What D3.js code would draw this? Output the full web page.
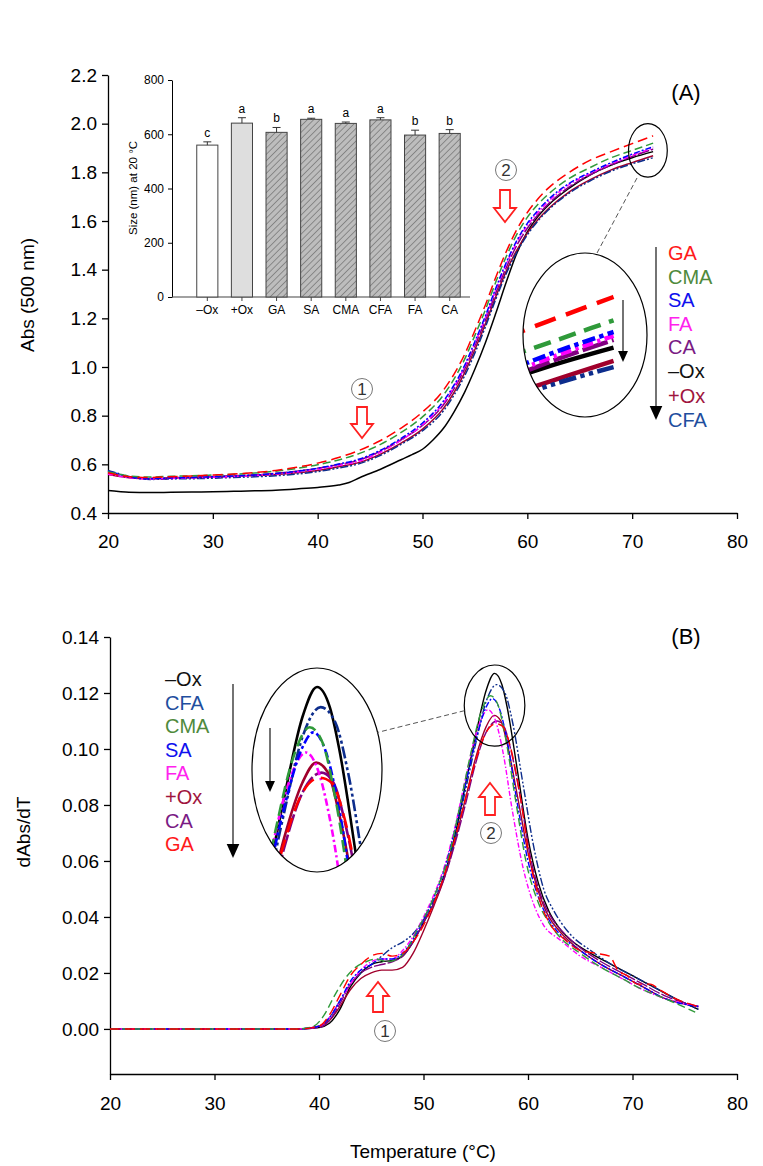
<!DOCTYPE html>
<html>
<head>
<meta charset="utf-8">
<script src="https://cdn.jsdelivr.net/npm/d3@7/dist/d3.min.js"></script>
<style>
  body { margin: 0; background: #fff; }
  svg text { font-family: "Liberation Sans", Arial, sans-serif; }
</style>
</head>
<body>
<svg id="fig" width="763" height="1166"></svg>
<script>
// ---------- tick values ----------
const tempTicks = [20, 30, 40, 50, 60, 70, 80];
const absTicks = [0.4, 0.6, 0.8, 1.0, 1.2, 1.4, 1.6, 1.8, 2.0, 2.2];
const derivTicks = [0, 0.02, 0.04, 0.06, 0.08, 0.10, 0.12, 0.14];
const sizeTicks = [0, 200, 400, 600, 800];

// ---------- inset: particle size at 20 °C ----------
const sizeCategories = ["–Ox", "+Ox", "GA", "SA", "CMA", "CFA", "FA", "CA"];
const sizeValues = [560, 641, 607, 655, 640, 653, 597, 603];
const sizeErrors = [12, 20, 18, 4, 5, 8, 18, 14];
const sizeLetters = ["c", "a", "b", "a", "a", "a", "b", "b"];

// ---------- (A) absorbance at 500 nm vs temperature ----------
const absGA = [[20,0.565],[21,0.556],[22,0.549],[24,0.546],[26,0.549],[28,0.552],[30,0.556],[32,0.560],[34,0.566],[36,0.575],[38,0.588],[40,0.605],[42,0.628],[44,0.658],[46,0.698],[48,0.750],[50,0.815],[52,0.905],[53,0.970],[54,1.050],[55,1.150],[56,1.255],[57,1.370],[58,1.475],[59,1.565],[60,1.635],[61,1.690],[62,1.735],[64,1.800],[66,1.850],[68,1.885],[70,1.918],[72,1.950]];
const absCMA = [[20,0.570],[21,0.560],[22,0.552],[24,0.548],[26,0.551],[28,0.553],[30,0.556],[32,0.559],[34,0.564],[36,0.572],[38,0.583],[40,0.598],[42,0.618],[44,0.645],[46,0.682],[48,0.732],[50,0.795],[52,0.885],[53,0.950],[54,1.030],[55,1.130],[56,1.235],[57,1.350],[58,1.455],[59,1.545],[60,1.615],[61,1.668],[62,1.710],[64,1.775],[66,1.820],[68,1.860],[70,1.890],[72,1.920]];
const absSA = [[20,0.572],[21,0.560],[22,0.548],[24,0.541],[26,0.544],[28,0.546],[30,0.549],[32,0.552],[34,0.556],[36,0.562],[38,0.571],[40,0.584],[42,0.601],[44,0.622],[46,0.658],[48,0.708],[50,0.770],[52,0.860],[53,0.925],[54,1.005],[55,1.105],[56,1.210],[57,1.325],[58,1.430],[59,1.520],[60,1.590],[61,1.643],[62,1.688],[64,1.755],[66,1.800],[68,1.840],[70,1.875],[72,1.905]];
const absFA = [[20,0.560],[21,0.552],[22,0.545],[24,0.540],[26,0.542],[28,0.544],[30,0.547],[32,0.550],[34,0.554],[36,0.560],[38,0.568],[40,0.580],[42,0.595],[44,0.614],[46,0.650],[48,0.700],[50,0.762],[52,0.852],[53,0.918],[54,0.998],[55,1.098],[56,1.203],[57,1.318],[58,1.423],[59,1.512],[60,1.582],[61,1.635],[62,1.680],[64,1.750],[66,1.795],[68,1.835],[70,1.870],[72,1.900]];
const absCA = [[20,0.566],[21,0.556],[22,0.547],[24,0.543],[26,0.545],[28,0.547],[30,0.550],[32,0.553],[34,0.557],[36,0.563],[38,0.572],[40,0.584],[42,0.599],[44,0.618],[46,0.654],[48,0.702],[50,0.760],[52,0.845],[53,0.910],[54,0.990],[55,1.088],[56,1.192],[57,1.305],[58,1.410],[59,1.500],[60,1.570],[61,1.625],[62,1.670],[64,1.740],[66,1.790],[68,1.830],[70,1.865],[72,1.895]];
const absMinusOx = [[20,0.492],[21,0.488],[22,0.485],[24,0.484],[26,0.485],[28,0.486],[30,0.487],[32,0.489],[34,0.491],[36,0.494],[38,0.499],[40,0.505],[42,0.515],[43,0.525],[44,0.545],[46,0.580],[48,0.620],[49,0.640],[50,0.662],[51,0.700],[52,0.748],[53,0.815],[54,0.895],[55,0.992],[56,1.100],[57,1.222],[58,1.350],[59,1.468],[60,1.555],[61,1.618],[62,1.665],[64,1.735],[66,1.790],[68,1.830],[70,1.860],[72,1.885]];
const absPlusOx = [[20,0.558],[21,0.551],[22,0.545],[24,0.541],[26,0.543],[28,0.545],[30,0.548],[32,0.551],[34,0.554],[36,0.558],[38,0.565],[40,0.575],[42,0.590],[44,0.608],[46,0.642],[48,0.688],[50,0.745],[52,0.830],[53,0.895],[54,0.975],[55,1.072],[56,1.177],[57,1.290],[58,1.395],[59,1.480],[60,1.550],[61,1.605],[62,1.650],[64,1.720],[66,1.770],[68,1.810],[70,1.840],[72,1.868]];
const absCFA = [[20,0.575],[21,0.562],[22,0.550],[24,0.538],[26,0.540],[28,0.541],[30,0.543],[32,0.546],[34,0.549],[36,0.553],[38,0.560],[40,0.570],[42,0.585],[44,0.603],[46,0.637],[48,0.683],[50,0.738],[52,0.820],[53,0.884],[54,0.962],[55,1.058],[56,1.165],[57,1.280],[58,1.385],[59,1.472],[60,1.543],[61,1.600],[62,1.645],[64,1.715],[66,1.765],[68,1.805],[70,1.835],[72,1.860]];

// ---------- (B) first derivative dAbs/dT ----------
const dMinusOx = [[20,0],[30,0],[38,0],[40,0.0005],[41,0.002],[42,0.007],[43,0.015],[44,0.020],[45,0.023],[46,0.024],[47,0.0245],[48,0.026],[49,0.031],[50,0.038],[51,0.045],[52,0.055],[53,0.069],[54,0.087],[55,0.105],[56,0.121],[56.8,0.127],[57.5,0.123],[58,0.115],[59,0.092],[60,0.068],[61,0.052],[62,0.042],[63,0.036],[64,0.032],[66,0.027],[68,0.023],[70,0.019],[72,0.015],[74,0.011],[76.3,0.007]];
const dCFA = [[20,0],[30,0],[38,0],[40,0.001],[41,0.004],[42,0.010],[43,0.016],[44,0.020],[45,0.023],[46,0.026],[47,0.029],[48,0.031],[49,0.034],[50,0.039],[51,0.046],[52,0.055],[53,0.068],[54,0.085],[55,0.102],[56,0.117],[57,0.123],[57.8,0.120],[58.5,0.110],[59.5,0.088],[60.5,0.066],[61.5,0.050],[62.5,0.042],[64,0.034],[66,0.028],[68,0.023],[70,0.019],[72,0.015],[74,0.011],[76.3,0.007]];
const dCMA = [[20,0],[30,0],[38,0],[39.5,0.001],[40.5,0.005],[41.5,0.012],[42.5,0.018],[43.5,0.022],[44.5,0.024],[45.5,0.025],[46.5,0.024],[47.5,0.025],[48.5,0.029],[49.5,0.036],[50.5,0.043],[51.5,0.052],[52.5,0.063],[53.5,0.080],[54.5,0.098],[55.5,0.113],[56.4,0.119],[57.1,0.116],[57.8,0.105],[58.8,0.082],[59.8,0.060],[61,0.045],[62,0.038],[63,0.033],[65,0.027],[67,0.022],[69,0.018],[71,0.014],[73,0.011],[76,0.006]];
const dSA = [[20,0],[30,0],[38,0],[40,0.001],[41,0.004],[42,0.010],[43,0.017],[44,0.021],[45,0.023],[46,0.025],[47,0.025],[48,0.027],[49,0.032],[50,0.039],[51,0.047],[52,0.057],[53,0.071],[54,0.087],[55,0.103],[56,0.115],[56.6,0.118],[57.3,0.114],[58,0.103],[59,0.080],[60,0.060],[61,0.047],[62,0.039],[63,0.034],[65,0.028],[67,0.023],[69,0.019],[71,0.015],[73,0.011],[76.3,0.008]];
const dFA = [[20,0],[30,0],[38,0],[40,0.001],[41,0.004],[42,0.010],[43,0.016],[44,0.021],[45,0.024],[46,0.025],[47,0.025],[48,0.028],[49,0.033],[50,0.040],[51,0.048],[52,0.058],[53,0.072],[54,0.089],[55,0.105],[56.2,0.114],[56.9,0.110],[57.6,0.099],[58.5,0.078],[59.5,0.058],[60.5,0.045],[61.5,0.037],[63,0.032],[65,0.026],[67,0.022],[69,0.018],[71,0.014],[73,0.011],[76.3,0.008]];
const dPlusOx = [[20,0],[30,0],[38,0],[40,0.001],[41,0.003],[42,0.008],[43,0.014],[44,0.018],[45,0.020],[46,0.021],[47,0.021],[48,0.022],[49,0.027],[50,0.035],[51,0.044],[52,0.054],[53,0.067],[54,0.082],[55,0.097],[56,0.108],[56.75,0.112],[57.4,0.110],[58,0.102],[59,0.083],[60,0.063],[61,0.049],[62,0.040],[63,0.035],[65,0.028],[67,0.023],[69,0.019],[71,0.015],[73,0.011],[76.3,0.008]];
const dCA = [[20,0],[30,0],[38,0],[40,0.0005],[41,0.003],[42,0.009],[43,0.016],[44,0.020],[45,0.022],[46,0.023],[47,0.024],[48,0.026],[49,0.031],[50,0.038],[51,0.045],[52,0.054],[53,0.066],[54,0.080],[55,0.095],[56,0.106],[57.05,0.110],[57.7,0.108],[58.4,0.099],[59.3,0.082],[60.2,0.062],[61.2,0.048],[62.2,0.040],[63.5,0.034],[65,0.029],[67,0.024],[69,0.020],[71,0.016],[73,0.012],[76.3,0.008]];
const dGA = [[20,0],[30,0],[38,0],[40,0.001],[41,0.005],[42,0.012],[43,0.019],[44,0.023],[45,0.026],[46,0.027],[47,0.026],[48,0.027],[49,0.031],[50,0.037],[51,0.045],[52,0.055],[53,0.068],[54,0.082],[55,0.096],[56,0.106],[56.95,0.109],[57.6,0.108],[58.3,0.101],[59.3,0.082],[60.2,0.060],[61.2,0.045],[62.2,0.037],[63.5,0.032],[65,0.028],[66.5,0.027],[67.8,0.026],[68.6,0.021],[69.5,0.019],[70.5,0.016],[71.7,0.016],[72.6,0.014],[74,0.011],[76.3,0.008]];

// ---------- series styling ----------
const seriesStyle = {
  "GA":  { color: "#ff0000", label: "#ff1a1a", dash: "10,5" },
  "CMA": { color: "#2f9a3a", label: "#4f8a3c", dash: "8,4" },
  "SA":  { color: "#0000ff", label: "#1010ee", dash: "6,2,2,2" },
  "FA":  { color: "#ff00ff", label: "#ff22ee", dash: "5,2,1.5,2" },
  "CA":  { color: "#800080", label: "#7a1a84", dash: "12,2" },
  "–Ox": { color: "#000000", label: "#111111", dash: null },
  "+Ox": { color: "#a0002c", label: "#a0153e", dash: null },
  "CFA": { color: "#0d2d8c", label: "#1f4e9e", dash: "8,2,2,2,2,2" }
};
const absSeries = { "GA": absGA, "CMA": absCMA, "SA": absSA, "FA": absFA, "CA": absCA, "–Ox": absMinusOx, "+Ox": absPlusOx, "CFA": absCFA };
const derivSeries = { "GA": dGA, "CMA": dCMA, "SA": dSA, "FA": dFA, "CA": dCA, "–Ox": dMinusOx, "+Ox": dPlusOx, "CFA": dCFA };
const drawOrder = ["–Ox", "+Ox", "CFA", "CA", "FA", "SA", "CMA", "GA"];
const legendOrderA = ["GA", "CMA", "SA", "FA", "CA", "–Ox", "+Ox", "CFA"];
const legendOrderB = ["–Ox", "CFA", "CMA", "SA", "FA", "+Ox", "CA", "GA"];

const svg = d3.select("#fig");
svg.append("rect").attr("width", 763).attr("height", 1166).attr("fill", "#fff");
const defs = svg.append("defs");

// hatch for the treated samples in the inset
const hatch = defs.append("pattern").attr("id", "hatch")
  .attr("patternUnits", "userSpaceOnUse").attr("width", 4.5).attr("height", 4.5)
  .attr("patternTransform", "rotate(45)");
hatch.append("rect").attr("width", 4.5).attr("height", 4.5).attr("fill", "#bdbdbd");
hatch.append("line").attr("x1", 0).attr("y1", 0).attr("x2", 0).attr("y2", 4.5)
  .attr("stroke", "#555").attr("stroke-width", 1);

function styleAxis(g, size) {
  g.selectAll("text").attr("font-size", size).attr("fill", "#000")
    .attr("font-family", "'Liberation Sans', Arial, sans-serif");
  g.selectAll("path,line").attr("stroke", "#000").attr("stroke-width", 1.3);
}

function drawSeries(g, data, x, y, key, dashScale, strokeW) {
  const st = seriesStyle[key];
  const line = d3.line().x(d => x(d[0])).y(d => y(d[1])).curve(d3.curveMonotoneX);
  const p = g.append("path").datum(data).attr("d", line)
    .attr("fill", "none").attr("stroke", st.color).attr("stroke-width", strokeW)
    .attr("stroke-linejoin", "round");
  if (st.dash) p.attr("stroke-dasharray", st.dash.split(",").map(v => +v * dashScale).join(","));
}

function blockArrow(g, cx, yFrom, yTo) {
  // hollow red arrow pointing from yFrom toward yTo
  const dir = yTo > yFrom ? 1 : -1;
  const sw = 5, hw = 11, hl = 14 * dir;
  const pts = [[cx - sw, yFrom], [cx + sw, yFrom], [cx + sw, yTo - hl], [cx + hw, yTo - hl],
               [cx, yTo], [cx - hw, yTo - hl], [cx - sw, yTo - hl]];
  g.append("polygon").attr("points", pts.map(p => p.join(",")).join(" "))
    .attr("fill", "#fff").attr("stroke", "#ff2020").attr("stroke-width", 1.8);
}

function circledNumber(g, cx, cy, n) {
  g.append("circle").attr("cx", cx).attr("cy", cy).attr("r", 10.5)
    .attr("fill", "#fff").attr("stroke", "#777").attr("stroke-width", 1);
  g.append("text").attr("x", cx).attr("y", cy + 6).attr("text-anchor", "middle")
    .attr("font-size", 17).attr("fill", "#333").text(n);
}

function legendArrow(g, x, y0, y1, head) {
  g.append("line").attr("x1", x).attr("x2", x).attr("y1", y0).attr("y2", y1 - head)
    .attr("stroke", "#000").attr("stroke-width", 1.1);
  g.append("polygon").attr("points", `${x - head * 0.45},${y1 - head} ${x + head * 0.45},${y1 - head} ${x},${y1}`)
    .attr("fill", "#000");
}

// ================= Panel A =================
const xA = d3.scaleLinear().domain([20, 80]).range([108, 737]);
const yA = d3.scaleLinear().domain([0.4, 2.2]).range([513, 75]);
const gA = svg.append("g");

gA.append("g").attr("transform", "translate(0,513)")
  .call(d3.axisBottom(xA).tickValues(tempTicks).tickSize(6).tickSizeOuter(0).tickPadding(16).tickFormat(d3.format("d")))
  .call(g => styleAxis(g, 19));
gA.append("g").attr("transform", "translate(108,0)")
  .call(d3.axisLeft(yA).tickValues(absTicks).tickSize(6).tickSizeOuter(0).tickPadding(5).tickFormat(d3.format(".1f")))
  .call(g => styleAxis(g, 19));
gA.append("text").attr("transform", "translate(34,295) rotate(-90)").attr("text-anchor", "middle")
  .attr("font-size", 19).text("Abs (500 nm)");
gA.append("text").attr("x", 686).attr("y", 100).attr("text-anchor", "middle")
  .attr("font-size", 22).text("(A)");

const curvesA = gA.append("g");
drawOrder.forEach(k => drawSeries(curvesA, absSeries[k], xA, yA, k, 1, 1.5));

// circled region near the end of the curves and its magnified view
const smallA = { t: 71.5, v: 1.89, rt: 1.85, rv: 0.11 };
gA.append("ellipse").attr("cx", xA(smallA.t)).attr("cy", yA(smallA.v))
  .attr("rx", xA(smallA.t + smallA.rt) - xA(smallA.t)).attr("ry", yA(smallA.v - smallA.rv) - yA(smallA.v))
  .attr("fill", "none").attr("stroke", "#000").attr("stroke-width", 1.2);

const bigA = { cx: 585, cy: 335, rx: 62, ry: 82 };
defs.append("clipPath").attr("id", "clipA").append("ellipse")
  .attr("cx", bigA.cx).attr("cy", bigA.cy).attr("rx", bigA.rx).attr("ry", bigA.ry);
const kA = 3.2;
const xAz = d3.scaleLinear().domain(xA.domain()).range(xA.range().map(r => 580 + (r - xA(71)) * kA));
const yAz = d3.scaleLinear().domain(yA.domain()).range(yA.range().map(r => 332 + (r - yA(1.905)) * kA));
const magA = gA.append("g").attr("clip-path", "url(#clipA)");
drawOrder.forEach(k => drawSeries(magA, absSeries[k].filter(d => d[0] >= 66), xAz, yAz, k, 2.2, 4.5));
gA.append("ellipse").attr("cx", bigA.cx).attr("cy", bigA.cy).attr("rx", bigA.rx).attr("ry", bigA.ry)
  .attr("fill", "none").attr("stroke", "#000").attr("stroke-width", 1.2);
legendArrow(gA, 623, 300, 362, 11);
// connector between the two ellipses
gA.append("line").attr("x1", 637).attr("y1", 178).attr("x2", 597).attr("y2", 253)
  .attr("stroke", "#555").attr("stroke-width", 1).attr("stroke-dasharray", "5,3");

// transition markers
circledNumber(gA, 362, 389, "1");
blockArrow(gA, 362, 407, 438);
circledNumber(gA, 506, 170, "2");
blockArrow(gA, 505, 190, 222);

// legend A
legendArrow(gA, 656, 247, 420, 14);
legendOrderA.forEach((k, i) => {
  gA.append("text").attr("x", 668).attr("y", 260 + i * 23.5 + (i >= 6 ? 2 : 0)).attr("font-size", 20)
    .attr("fill", seriesStyle[k].label).text(k);
});

// ---------- inset bar chart ----------
const gIn = svg.append("g");
const xIn = d3.scaleBand().domain(sizeCategories).range([190, 467]).paddingInner(0.39).paddingOuter(0.195);
const yIn = d3.scaleLinear().domain([0, 800]).range([297, 80]);
gIn.append("g").attr("transform", "translate(172,0)")
  .call(d3.axisLeft(yIn).tickValues(sizeTicks).tickSize(4).tickSizeOuter(0).tickPadding(4))
  .call(g => styleAxis(g, 12))
  .call(g => g.selectAll("path,line").attr("stroke-width", 1));
gIn.append("line").attr("x1", 172).attr("x2", 470).attr("y1", 297).attr("y2", 297)
  .attr("stroke", "#444").attr("stroke-width", 1.2);
gIn.selectAll(".xt").data(sizeCategories).join("line")
  .attr("x1", d => xIn(d) + xIn.bandwidth() / 2).attr("x2", d => xIn(d) + xIn.bandwidth() / 2)
  .attr("y1", 297).attr("y2", 301).attr("stroke", "#444");
gIn.selectAll(".xl").data(sizeCategories).join("text")
  .attr("x", d => xIn(d) + xIn.bandwidth() / 2).attr("y", 314).attr("text-anchor", "middle")
  .attr("font-size", 12).text(d => d);
gIn.selectAll(".bar").data(sizeCategories).join("rect")
  .attr("x", d => xIn(d)).attr("width", xIn.bandwidth())
  .attr("y", (d, i) => yIn(sizeValues[i])).attr("height", (d, i) => 297 - yIn(sizeValues[i]))
  .attr("fill", (d, i) => i === 0 ? "#fff" : i === 1 ? "#dedede" : "url(#hatch)")
  .attr("stroke", "#444").attr("stroke-width", 1);
sizeCategories.forEach((c, i) => {
  const cx = xIn(c) + xIn.bandwidth() / 2;
  const top = yIn(sizeValues[i] + sizeErrors[i]);
  gIn.append("line").attr("x1", cx).attr("x2", cx).attr("y1", yIn(sizeValues[i])).attr("y2", top).attr("stroke", "#333");
  gIn.append("line").attr("x1", cx - 4).attr("x2", cx + 4).attr("y1", top).attr("y2", top).attr("stroke", "#333");
  gIn.append("text").attr("x", cx).attr("y", top - 5).attr("text-anchor", "middle")
    .attr("font-size", 12).text(sizeLetters[i]);
});
gIn.append("text").attr("transform", "translate(137,188) rotate(-90)").attr("text-anchor", "middle")
  .attr("font-size", 11.5).text("Size (nm) at 20 °C");

// ================= Panel B =================
const xB = d3.scaleLinear().domain([20, 80]).range([110, 737]);
const yB = d3.scaleLinear().domain([-0.0161, 0.14]).range([1074, 637]);
const gB = svg.append("g");

gB.append("g").attr("transform", "translate(0,1074)")
  .call(d3.axisBottom(xB).tickValues(tempTicks).tickSize(6).tickSizeOuter(0).tickPadding(17).tickFormat(d3.format("d")))
  .call(g => styleAxis(g, 19));
gB.append("g").attr("transform", "translate(110,0)")
  .call(d3.axisLeft(yB).tickValues(derivTicks).tickSize(6).tickSizeOuter(0).tickPadding(5).tickFormat(d3.format(".2f")))
  .call(g => styleAxis(g, 19));
gB.append("text").attr("transform", "translate(30,832) rotate(-90)").attr("text-anchor", "middle")
  .attr("font-size", 19).text("dAbs/dT");
gB.append("text").attr("x", 686).attr("y", 644).attr("text-anchor", "middle")
  .attr("font-size", 22).text("(B)");
gB.append("text").attr("x", 423).attr("y", 1158).attr("text-anchor", "middle")
  .attr("font-size", 19).text("Temperature (°C)");

const curvesB = gB.append("g");
drawOrder.forEach(k => drawSeries(curvesB, derivSeries[k], xB, yB, k, 1, 1.4));

// circled peak region and its magnified view
const smallB = { t: 56.8, v: 0.1155, rt: 2.9, rv: 0.0145 };
const sbx = xB(smallB.t), sby = yB(smallB.v);
const sbrx = xB(smallB.t + smallB.rt) - sbx, sbry = yB(smallB.v - smallB.rv) - sby;
gB.append("ellipse").attr("cx", sbx).attr("cy", sby).attr("rx", sbrx).attr("ry", sbry)
  .attr("fill", "none").attr("stroke", "#000").attr("stroke-width", 1.2);

const bigB = { cx: 317, cy: 770, rx: 65, ry: 102 };
defs.append("clipPath").attr("id", "clipB").append("ellipse")
  .attr("cx", bigB.cx).attr("cy", bigB.cy).attr("rx", bigB.rx).attr("ry", bigB.ry);
const kBx = 1.75, kBy = 1.8;
const xBz = d3.scaleLinear().domain(xB.domain()).range(xB.range().map(r => 317 + (r - xB(56.8)) * kBx));
const yBz = d3.scaleLinear().domain(yB.domain()).range(yB.range().map(r => 687 + (r - yB(0.127)) * kBy));
const magB = gB.append("g").attr("clip-path", "url(#clipB)");
drawOrder.forEach(k => drawSeries(magB, derivSeries[k].filter(d => d[0] >= 52 && d[0] <= 62), xBz, yBz, k, 1.5, 2.6));
gB.append("ellipse").attr("cx", bigB.cx).attr("cy", bigB.cy).attr("rx", bigB.rx).attr("ry", bigB.ry)
  .attr("fill", "none").attr("stroke", "#000").attr("stroke-width", 1.2);
legendArrow(gB, 270, 728, 792, 11);
const a1 = Math.PI * 0.96, a2 = -Math.PI * 0.12;
gB.append("line")
  .attr("x1", sbx + sbrx * Math.cos(a1)).attr("y1", sby + sbry * Math.sin(a1))
  .attr("x2", bigB.cx + bigB.rx * Math.cos(a2)).attr("y2", bigB.cy + bigB.ry * Math.sin(a2))
  .attr("stroke", "#555").attr("stroke-width", 1).attr("stroke-dasharray", "5,3");

// transition markers
blockArrow(gB, 490, 815, 783);
circledNumber(gB, 491, 833, "2");
blockArrow(gB, 378, 1012, 982);
circledNumber(gB, 385, 1031, "1");

// legend B
legendArrow(gB, 233, 684, 858, 14);
legendOrderB.forEach((k, i) => {
  gB.append("text").attr("x", 165).attr("y", 686 + i * 23.6).attr("font-size", 20)
    .attr("fill", seriesStyle[k].label).text(k);
});
</script>
</body>
</html>
